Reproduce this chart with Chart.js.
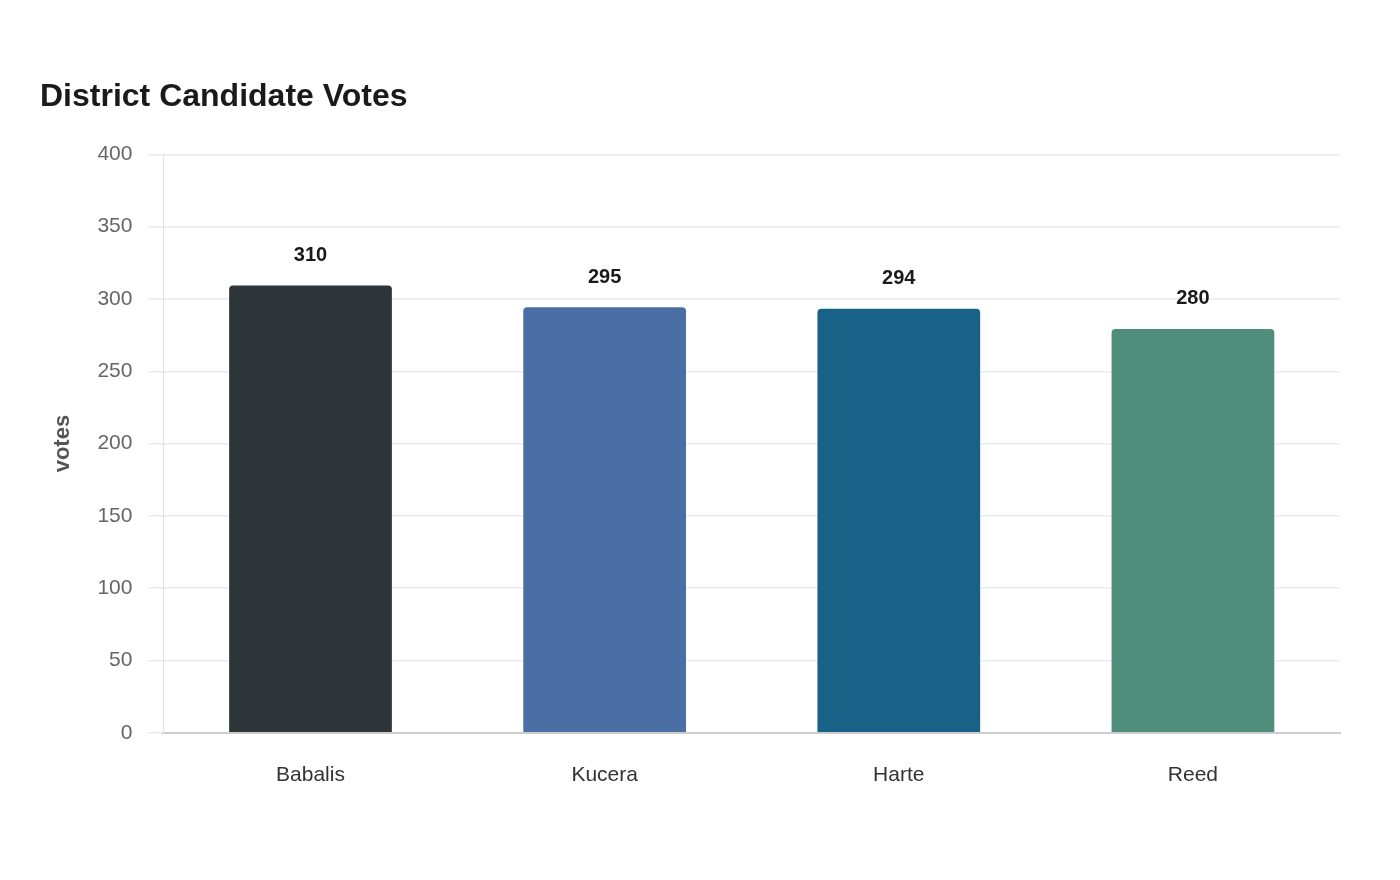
<!DOCTYPE html>
<html>
<head>
<meta charset="utf-8">
<script src="https://cdn.jsdelivr.net/npm/chart.js@4.4.0/dist/chart.umd.min.js"></script>
<style>
  html, body { margin: 0; padding: 0; background: #fff; }
  #wrap { width: 1400px; height: 880px; }
</style>
</head>
<body>
<div id="wrap"><canvas id="votesChart"></canvas></div>
<script>
// chart data
var candidates = ['Babalis', 'Kucera', 'Harte', 'Reed'];
var votes = [310, 295, 294, 280];
var barColors = ['#2d3538', '#4a6fa5', '#186187', '#4e8e7b'];
var yTicks = [0, 50, 100, 150, 200, 250, 300, 350, 400];

var FONT = '"Liberation Sans", Arial, sans-serif';

// draws the value above each bar
var valueLabels = {
    id: 'valueLabels',
    afterDatasetsDraw: function (chart) {
        var ctx = chart.ctx;
        var meta = chart.getDatasetMeta(0);
        ctx.save();
        ctx.font = 'bold 20px ' + FONT;
        ctx.fillStyle = '#1a1a1a';
        ctx.textAlign = 'center';
        ctx.textBaseline = 'middle';
        meta.data.forEach(function (bar, i) {
            ctx.fillText(votes[i], bar.x, bar.y - 29);
        });
        ctx.restore();
    }
};

var ctx = document.getElementById('votesChart').getContext('2d');
new Chart(ctx, {
    type: 'bar',
    data: {
        labels: candidates,
        datasets: [{
            label: 'votes',
            data: votes,
            backgroundColor: barColors,
            borderColor: 'rgba(255, 255, 255, 0.35)',
            borderWidth: 1,
            borderRadius: { topLeft: 5, topRight: 5 },
            borderSkipped: 'bottom',
            categoryPercentage: 1,
            barPercentage: 0.56
        }]
    },
    options: {
        responsive: true,
        maintainAspectRatio: false,
        animation: false,
        layout: {
            padding: { left: 40, right: 60, top: 78, bottom: 70 }
        },
        plugins: {
            legend: { display: false },
            tooltip: { enabled: false },
            title: {
                display: true,
                text: 'District Candidate Votes',
                align: 'start',
                color: '#1a1a1a',
                font: { family: FONT, size: 32, weight: 'bold' },
                padding: { top: 0, bottom: 38 }
            }
        },
        scales: {
            x: {
                grid: { display: false },
                border: { color: '#cccccc', width: 2 },
                ticks: {
                    color: '#333',
                    padding: 22,
                    font: { family: FONT, size: 21 }
                }
            },
            y: {
                min: 0,
                max: 400,
                afterBuildTicks: function (axis) {
                    axis.ticks = yTicks.map(function (v) { return { value: v }; });
                },
                grid: { color: '#ebebeb', lineWidth: 1.5, tickLength: 16 },
                border: { color: '#e2e2e2', width: 1 },
                ticks: {
                    color: '#666',
                    padding: 15,
                    font: { family: FONT, size: 21 }
                },
                title: {
                    display: true,
                    text: 'votes',
                    color: '#555',
                    font: { family: FONT, size: 22, weight: 'bold' },
                    padding: { top: 10, bottom: 6 }
                }
            }
        }
    },
    plugins: [valueLabels]
});
</script>
</body>
</html>
